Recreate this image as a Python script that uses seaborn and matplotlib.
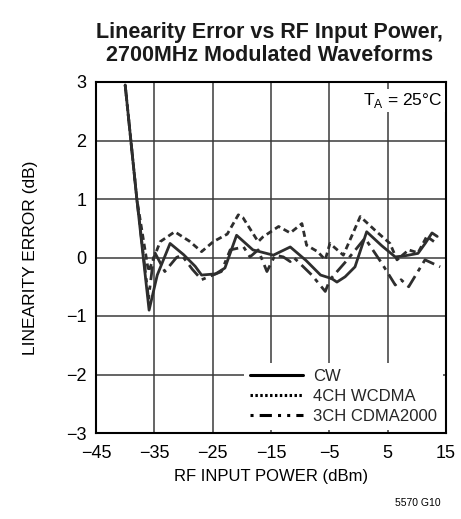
import matplotlib
matplotlib.use("Agg")
import matplotlib.pyplot as plt
import seaborn as sns
import pandas as pd
from matplotlib.lines import Line2D

sns.set_theme(style="white")
plt.rcParams['font.family'] = ['Liberation Sans', 'DejaVu Sans']
plt.rcParams['mathtext.fontset'] = 'custom'
plt.rcParams['mathtext.rm'] = 'Liberation Sans'

title = "Linearity Error vs RF Input Power,\n2700MHz Modulated Waveforms"
xlabel = "RF INPUT POWER (dBm)"
ylabel = "LINEARITY ERROR (dB)"
xticks = [-45, -35, -25, -15, -5, 5, 15]
yticks = [-3, -2, -1, 0, 1, 2, 3]

cw_x = [-40, -38, -35.9, -34.5, -32.3, -30, -28, -26.9, -24.5, -22.9, -20.9, -18.1, -14.6, -11.7, -9, -6.5, -4.6, -3.7, -2.3, -0.6, 1.4, 4, 6.3, 8, 10.2, 11.5, 12.6, 13.5]
cw_y = [2.95, 1.0, -0.9, -0.3, 0.24, 0.05, -0.15, -0.3, -0.28, -0.18, 0.38, 0.13, 0.04, 0.18, -0.05, -0.3, -0.36, -0.42, -0.33, -0.16, 0.44, 0.2, 0.01, 0.03, 0.07, 0.25, 0.42, 0.36]

wc_x = [-40, -38, -36, -34, -31.5, -29, -26.9, -24.9, -22.5, -20.6, -19.8, -17.2, -16.4, -13.7, -11.7, -9.7, -8.9, -7, -5.7, -4.9, -2.6, 0.3, 3, 5.4, 6.6, 8.6, 10.2, 11.7, 13.4]
wc_y = [2.95, 1.0, -0.24, 0.27, 0.44, 0.28, 0.1, 0.27, 0.4, 0.73, 0.68, 0.27, 0.35, 0.53, 0.42, 0.58, 0.21, 0.1, -0.04, 0.24, 0.04, 0.7, 0.45, 0.24, -0.04, 0.13, 0.08, 0.36, 0.24]

cd_x = [-40, -38, -36, -35, -33.2, -31.2, -30.3, -28.5, -26.9, -23.5, -22, -19.7, -18.6, -17.2, -15.7, -14.3, -12.9, -11.7, -11.1, -8, -5.7, -4.9, -2, 1.1, 4, 6.3, 7.3, 8.6, 11.4, 14.0]
cd_y = [2.95, 1.0, -0.7, 0.1, -0.24, 0.0, 0.04, -0.2, -0.38, -0.24, 0.13, 0.18, 0.01, 0.13, -0.24, 0.04, 0.01, -0.07, 0.0, -0.3, -0.58, -0.38, -0.05, 0.33, -0.1, -0.47, -0.38, -0.5, -0.04, -0.16]

series_names = ["CW", "4CH WCDMA", "3CH CDMA2000"]
styles = {"CW": "-", "4CH WCDMA": (0, (2.2, 1.4)), "3CH CDMA2000": (0, (5, 2, 1.5, 2))}
legend_styles = {"CW": "-", "4CH WCDMA": (0, (0.8, 0.8)), "3CH CDMA2000": (0, (1, 2, 4, 2, 1, 2))}
line_color = "#2e2e2e"

df = pd.concat([
    pd.DataFrame({"x": cw_x, "y": cw_y, "s": "CW"}),
    pd.DataFrame({"x": wc_x, "y": wc_y, "s": "4CH WCDMA"}),
    pd.DataFrame({"x": cd_x, "y": cd_y, "s": "3CH CDMA2000"}),
])

fig = plt.figure(figsize=(4.61, 5.19), dpi=100)
ax = fig.add_axes([96/461, 1-433/519, 350/461, 351/519])

for name in series_names:
    sub = df[df["s"] == name]
    sns.lineplot(data=sub, x="x", y="y", ax=ax, color=line_color, lw=2.0,
                 linestyle=styles[name], sort=False, estimator=None, legend=False)

ax.set_xlim(-45, 15)
ax.set_ylim(-3, 3)
ax.set_xticks(xticks)
ax.set_yticks(yticks)
ax.set_xticklabels([str(t).replace('-', '\u2212') for t in xticks])
ax.set_yticklabels([str(t).replace('-', '\u2212') for t in yticks])
ax.tick_params(axis="x", length=0, labelsize=13, colors="black", pad=9)
ax.tick_params(axis="y", length=0, labelsize=13, colors="black", pad=7)
ax.grid(True, color="#3a3a3a", lw=1.1)
for sp in ax.spines.values():
    sp.set_color("black")
    sp.set_linewidth(1.5)
ax.set_xlabel(xlabel, fontsize=12, color="black", labelpad=5)
ax.set_ylabel(ylabel, fontsize=12.5, color="black", labelpad=20)

fig.text(0.585, 0.958, title, ha="center", va="top", fontsize=15.5, fontweight="bold",
         linespacing=1.15, color="#1a1a1a")

ax.text(0.99, 0.975, r"T$_\mathregular{A}$ = 25°C", transform=ax.transAxes, ha="right", va="top",
        fontsize=12.5, color="black",
        bbox=dict(facecolor="white", edgecolor="none", pad=1.5))

handles = [Line2D([0], [0], color="black", lw=2.2, linestyle=legend_styles[n]) for n in series_names]
leg = ax.legend(handles, series_names, loc="lower right", frameon=True, fontsize=12,
                handlelength=3.2, handletextpad=0.6, labelspacing=0.3, borderpad=0.35,
                borderaxespad=0.2)
leg.get_frame().set_facecolor("white")
leg.get_frame().set_edgecolor("none")
leg.get_frame().set_alpha(1)
leg.get_frame().set_boxstyle("square", pad=0.0)

fig.text(0.955, 0.022, "5570 G10", ha="right", va="bottom", fontsize=7.5, color="black")

fig.savefig("out.png", dpi=100)
